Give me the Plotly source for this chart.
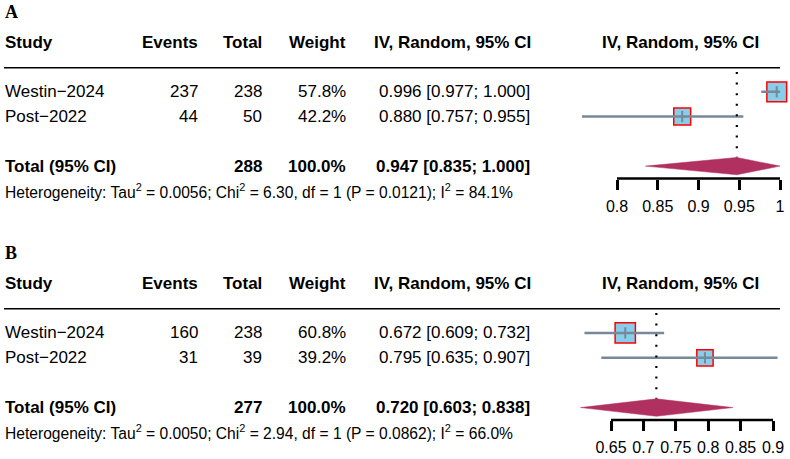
import math
import plotly.graph_objects as go

# ---------------- data ----------------
studies_A = ["Westin\u22122024", "Post\u22122022"]
events_A = [237, 44]
totals_A = [238, 50]
weights_A = [57.8, 42.2]
est_A = [0.996, 0.880]
lo_A = [0.977, 0.757]
hi_A = [1.000, 0.955]
pooled_A = [0.947, 0.835, 1.000]
total_n_A = 288
het_A = {"tau2": "0.0056", "chi2": "6.30", "df": 1, "p": "0.0121", "i2": "84.1"}
ticks_A = [0.8, 0.85, 0.9, 0.95, 1.0]
ticktext_A = ["0.8", "0.85", "0.9", "0.95", "1"]

studies_B = ["Westin\u22122024", "Post\u22122022"]
events_B = [160, 31]
totals_B = [238, 39]
weights_B = [60.8, 39.2]
est_B = [0.672, 0.795]
lo_B = [0.609, 0.635]
hi_B = [0.732, 0.907]
pooled_B = [0.720, 0.603, 0.838]
total_n_B = 277
het_B = {"tau2": "0.0050", "chi2": "2.94", "df": 1, "p": "0.0862", "i2": "66.0"}
ticks_B = [0.65, 0.7, 0.75, 0.8, 0.85, 0.9]
ticktext_B = ["0.65", "0.7", "0.75", "0.8", "0.85", "0.9"]

# ---------------- style / layout ----------------
W, H = 790, 459
SANS = "Liberation Sans, Arial, sans-serif"
SERIF = "Liberation Serif, Times New Roman, serif"
SQ_FILL = "#87CEEB"
SQ_EDGE = "#FF0000"
CI_COL = "#778899"
DIAMOND = "#B03060"
FS = 17
FS_HET = 15.6
FS_TICK = 16
YMAX = 4.5  # row units covered by the forest y-axis (0 = header rule)

fig = go.Figure()
annotations = []
shapes = []


def px_x(p):
    return p / W


def add_panel(n, label, studies, events, totals, weights, est, lo, hi, pooled,
              total_n, het, ticks, ticktext, ytop_px, ybot_px, tick_px, dom_px):
    xa = "x" if n == 1 else "x%d" % n
    ya = "y" if n == 1 else "y%d" % n
    xkey = "xaxis" if n == 1 else "xaxis%d" % n
    ykey = "yaxis" if n == 1 else "yaxis%d" % n

    def row_y(row):
        # row units -> paper fraction, same mapping as the y axis
        return 1 - (ytop_px + row * (ybot_px - ytop_px) / YMAX) / H

    scale = (tick_px[1] - tick_px[0]) / (ticks[-1] - ticks[0])
    xr = [ticks[0] - (tick_px[0] - dom_px[0]) / scale,
          ticks[-1] + (dom_px[1] - tick_px[1]) / scale]
    fig.layout[xkey] = dict(
        domain=[dom_px[0] / W, dom_px[1] / W], range=xr, anchor=ya,
        showgrid=False, zeroline=False, showline=False,
        ticks="outside", ticklen=10, tickwidth=2.5, tickcolor="black",
        tickvals=ticks, ticktext=ticktext, ticklabelstandoff=3,
        tickfont=dict(family=SANS, size=FS_TICK, color="black"),
        fixedrange=True,
    )
    fig.layout[ykey] = dict(
        domain=[1 - ybot_px / H, 1 - ytop_px / H], range=[YMAX, 0],
        anchor=xa, visible=False, fixedrange=True,
    )

    rows = [1 + i for i in range(len(studies))]
    total_row = 4
    het_row = 5
    head_row = -1
    dh = 0.35

    sizes = [2.6 * math.sqrt(w) for w in weights]
    fig.add_trace(go.Scatter(
        x=est, y=rows, mode="markers", xaxis=xa, yaxis=ya, cliponaxis=False,
        marker=dict(symbol="square", size=sizes, color=SQ_FILL, opacity=1,
                    line=dict(color=SQ_EDGE, width=1.5)),
        showlegend=False, hoverinfo="skip"))
    cx, cy = [], []
    for r, a, b in zip(rows, lo, hi):
        cx += [a, b, None]
        cy += [r, r, None]
    fig.add_trace(go.Scatter(
        x=cx, y=cy, mode="lines", xaxis=xa, yaxis=ya,
        line=dict(color=CI_COL, width=2.5), showlegend=False, hoverinfo="skip"))
    fig.add_trace(go.Scatter(
        x=est, y=rows, mode="markers", xaxis=xa, yaxis=ya, cliponaxis=False,
        marker=dict(symbol="line-ns", size=8, opacity=1,
                    line=dict(color=CI_COL, width=2)),
        showlegend=False, hoverinfo="skip"))
    fig.add_trace(go.Scatter(
        x=[pooled[0], pooled[0]], y=[0.2, total_row - dh], mode="lines",
        xaxis=xa, yaxis=ya,
        line=dict(color="black", width=2.2, dash="2px,8.6px"),
        showlegend=False, hoverinfo="skip"))
    fig.add_trace(go.Scatter(
        x=[pooled[1], pooled[0], pooled[2], pooled[0], pooled[1]],
        y=[total_row, total_row - dh, total_row, total_row + dh, total_row],
        mode="lines", fill="toself", fillcolor=DIAMOND, xaxis=xa, yaxis=ya,
        line=dict(color=DIAMOND, width=0.5), showlegend=False, hoverinfo="skip"))

    shapes.append(dict(type="line", xref=xa, yref=ya + " domain",
                       x0=ticks[0], x1=ticks[-1], y0=0, y1=0,
                       line=dict(color="black", width=2.5)))
    shapes.append(dict(type="line", xref="paper", yref=ya,
                       x0=px_x(4), x1=px_x(780), y0=0, y1=0,
                       line=dict(color="black", width=3)))

    def ann(text, xpx, row, anchor, size=FS, bold=False, family=SANS):
        annotations.append(dict(
            text=("<b>%s</b>" % text) if bold else text,
            x=px_x(xpx), y=row_y(row), xref="paper", yref="paper",
            xanchor=anchor, yanchor="middle", showarrow=False, borderpad=0,
            font=dict(family=family, size=size, color="black")))

    ann(label, 4, -2.2, "left", size=18, bold=True, family=SERIF)
    ann("Study", 4, head_row, "left", bold=True)
    ann("Events", 199, head_row, "right", bold=True)
    ann("Total", 263, head_row, "right", bold=True)
    ann("Weight", 347, head_row, "right", bold=True)
    ann("IV, Random, 95% CI", 532, head_row, "right", bold=True)
    ann("IV, Random, 95% CI", 680, head_row, "center", bold=True)
    for r, s, e, t, w, m, a, b in zip(rows, studies, events, totals, weights, est, lo, hi):
        ann(s, 4, r, "left")
        ann(str(e), 199, r, "right")
        ann(str(t), 263, r, "right")
        ann("%.1f%%" % w, 347, r, "right")
        ann("%.3f [%.3f; %.3f]" % (m, a, b), 531, r, "right")
    ann("Total (95% CI)", 4, total_row, "left", bold=True)
    ann(str(total_n), 263, total_row, "right", bold=True)
    ann("%.1f%%" % sum(weights), 347, total_row, "right", bold=True)
    ann("%.3f [%.3f; %.3f]" % tuple(pooled), 531, total_row, "right", bold=True)
    het_txt = ("Heterogeneity: Tau<sup>2</sup> = %s; Chi<sup>2</sup> = %s, df = %d "
               "(P = %s); I<sup>2</sup> = %s%%" % (het["tau2"], het["chi2"], het["df"],
                                                  het["p"], het["i2"]))
    ann(het_txt, 4, het_row, "left", size=FS_HET)


add_panel(1, "A", studies_A, events_A, totals_A, weights_A, est_A, lo_A, hi_A,
          pooled_A, total_n_A, het_A, ticks_A, ticktext_A,
          ytop_px=67, ybot_px=178.5, tick_px=(617, 780), dom_px=(570, 790))
add_panel(2, "B", studies_B, events_B, totals_B, weights_B, est_B, lo_B, hi_B,
          pooled_B, total_n_B, het_B, ticks_B, ticktext_B,
          ytop_px=308, ybot_px=420, tick_px=(611, 773), dom_px=(570, 790))

fig.update_layout(
    width=W, height=H, margin=dict(l=0, r=0, t=0, b=0),
    paper_bgcolor="white", plot_bgcolor="white",
    showlegend=False, annotations=annotations, shapes=shapes,
    font=dict(family=SANS, color="black"),
)
fig.write_html("out.html", config={"displayModeBar": False})
